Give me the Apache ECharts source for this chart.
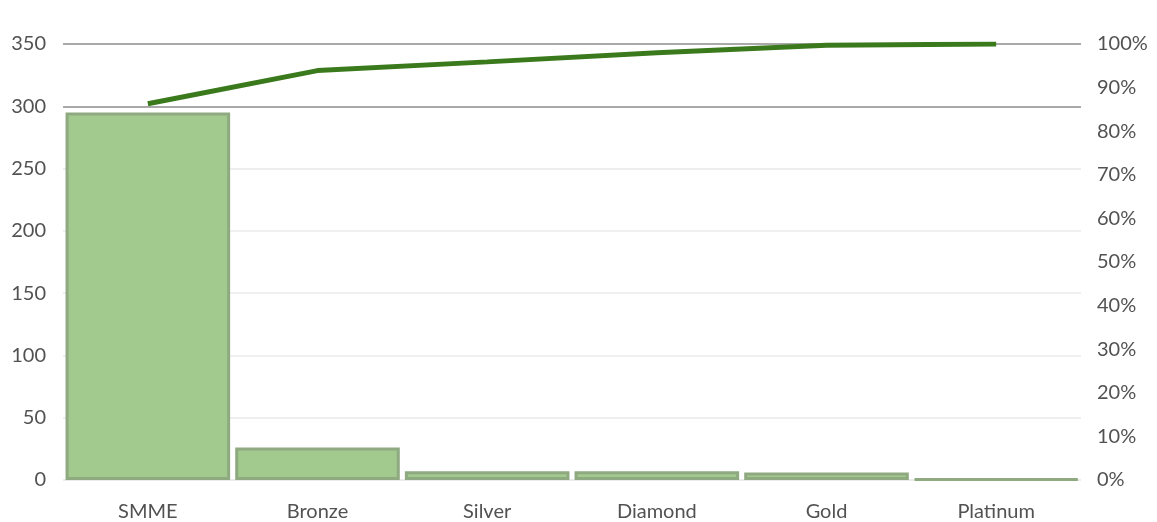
<!DOCTYPE html>
<html>
<head>
<meta charset="utf-8">
<script src="https://cdn.jsdelivr.net/npm/echarts@6/dist/echarts.min.js"></script>
<style>
  html, body { margin: 0; padding: 0; background: #ffffff; }
  #chart { width: 1157px; height: 522px; }
</style>
</head>
<body>
<div id="chart"></div>
<script>
// Membership tiers, sorted by count (Pareto order)
const categories = ['SMME', 'Bronze', 'Silver', 'Diamond', 'Gold', 'Platinum'];
const counts = [295, 26, 7, 7, 6, 1];
// Cumulative share of the total, in percent
const cumulativePct = [86.3, 93.9, 95.9, 98.0, 99.7, 100];
const countTicks = [0, 50, 100, 150, 200, 250, 300, 350];

const labelFont = { color: '#525252', fontSize: 20, fontFamily: 'Lato, "Open Sans", sans-serif' };

const chart = echarts.init(document.getElementById('chart'));
chart.setOption({
  backgroundColor: '#ffffff',
  animation: false,
  grid: { left: 63, right: 76, top: 44, bottom: 41 },
  xAxis: {
    type: 'category',
    data: categories,
    axisLine: { show: false },
    axisTick: { show: false },
    axisLabel: Object.assign({ margin: 22 }, labelFont)
  },
  yAxis: [
    {
      type: 'value',
      min: countTicks[0],
      max: countTicks[countTicks.length - 1],
      interval: 50,
      axisLine: { show: false },
      axisTick: { show: false },
      axisLabel: Object.assign({ margin: 17 }, labelFont),
      splitLine: {
        lineStyle: {
          width: 2,
          color: ['#ececec', '#eeeeee', '#efefef', '#f0f0f0', '#f0f0f0', '#eeeeee', '#a9a9a9', '#a9a9a9']
        }
      }
    },
    {
      type: 'value',
      min: 0,
      max: 100,
      interval: 10,
      axisLine: { show: false },
      axisTick: { show: false },
      splitLine: { show: false },
      axisLabel: Object.assign({ margin: 16, formatter: '{value}%' }, labelFont)
    }
  ],
  series: [
    {
      name: 'Count',
      type: 'bar',
      data: counts,
      barCategoryGap: '3%',
      itemStyle: {
        color: '#a2c98e',
        borderColor: '#8fa981',
        borderWidth: 3
      }
    },
    {
      name: 'Cumulative %',
      type: 'line',
      yAxisIndex: 1,
      data: cumulativePct,
      symbol: 'none',
      lineStyle: { color: '#3b7a1c', width: 5 }
    }
  ]
});
</script>
</body>
</html>
